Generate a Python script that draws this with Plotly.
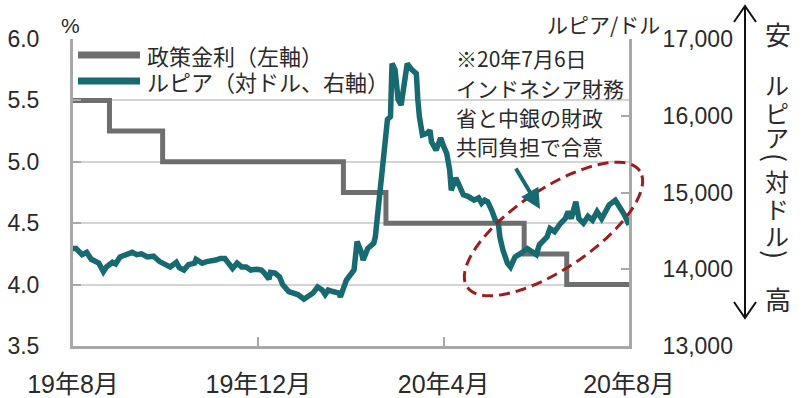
import numpy as np
import plotly.graph_objects as go

# ---------------- data ----------------
policy_dates = ["2019-08-26", "2019-09-19", "2019-10-24", "2020-02-20",
                "2020-03-19", "2020-06-18", "2020-07-16", "2020-08-26"]
policy_rate = [5.50, 5.25, 5.00, 4.75, 4.50, 4.25, 4.00, 4.00]

rupiah_dates = [
    "2019-08-26", "2019-08-28", "2019-09-01", "2019-09-04", "2019-09-07", "2019-09-12",
    "2019-09-15", "2019-09-17", "2019-09-21", "2019-09-23", "2019-09-26", "2019-09-29",
    "2019-10-04", "2019-10-07", "2019-10-10", "2019-10-14", "2019-10-18", "2019-10-22",
    "2019-10-26", "2019-10-29", "2019-11-02", "2019-11-04", "2019-11-07", "2019-11-10",
    "2019-11-14", "2019-11-15", "2019-11-19", "2019-11-22", "2019-11-28", "2019-12-01",
    "2019-12-04", "2019-12-06", "2019-12-09", "2019-12-12", "2019-12-15", "2019-12-18",
    "2019-12-21", "2019-12-25", "2019-12-28", "2019-12-30", "2020-01-02", "2020-01-03",
    "2020-01-06", "2020-01-09", "2020-01-11", "2020-01-15", "2020-01-18", "2020-01-21",
    "2020-01-25", "2020-01-28", "2020-01-31", "2020-02-03", "2020-02-06", "2020-02-08",
    "2020-02-10", "2020-02-13", "2020-02-17", "2020-02-18", "2020-02-22", "2020-02-27",
    "2020-02-29", "2020-03-03", "2020-03-04", "2020-03-07", "2020-03-11", "2020-03-12",
    "2020-03-15", "2020-03-18", "2020-03-20", "2020-03-22", "2020-03-23", "2020-03-25",
    "2020-03-27", "2020-03-29", "2020-03-31", "2020-04-02", "2020-04-05", "2020-04-08",
    "2020-04-09", "2020-04-10", "2020-04-12", "2020-04-15", "2020-04-17", "2020-04-18",
    "2020-04-21", "2020-04-24", "2020-04-26", "2020-04-28", "2020-04-30", "2020-05-01",
    "2020-05-04", "2020-05-07", "2020-05-09", "2020-05-12", "2020-05-16", "2020-05-19",
    "2020-05-21", "2020-05-23", "2020-05-25", "2020-05-28", "2020-05-30", "2020-06-01",
    "2020-06-02", "2020-06-04", "2020-06-07", "2020-06-09", "2020-06-12", "2020-06-16",
    "2020-06-20", "2020-06-23", "2020-06-26", "2020-06-28", "2020-07-03", "2020-07-05",
    "2020-07-08", "2020-07-12", "2020-07-15", "2020-07-17", "2020-07-19", "2020-07-22",
    "2020-07-24", "2020-07-27", "2020-07-30", "2020-08-02", "2020-08-05", "2020-08-08",
    "2020-08-11", "2020-08-13", "2020-08-17", "2020-08-19", "2020-08-21", "2020-08-23",
    "2020-08-26",
]
rupiah_values = [
    14270, 14270, 14190, 14220, 14130, 14080,
    13970, 14030, 14090, 14070, 14160, 14190,
    14220, 14190, 14200, 14160, 14170, 14100,
    14060, 14030, 14090, 14020, 13990, 14060,
    14080, 14130, 14080, 14100, 14120, 14140,
    14140, 14080, 14010, 14080, 14030, 14030,
    13990, 14000, 13990, 13950, 13870, 13960,
    13950, 13900, 13800, 13710, 13690, 13670,
    13610, 13640, 13690, 13770, 13730, 13670,
    13730, 13710, 13690, 13640, 13860, 13990,
    14360, 14210, 14120, 14270, 14340, 14420,
    14990, 15730, 15950, 15990, 16680, 16600,
    16210, 16140, 16380, 16680, 16600, 16550,
    16210, 15990, 15750, 15770, 15810, 15660,
    15550, 15710, 15600, 15510, 15290, 15030,
    15190, 15080, 14970, 14950, 14900, 14930,
    14860, 14900, 14880, 14750, 14640, 14600,
    14420, 14250, 14080, 14030, 14160, 14210,
    14270, 14230, 14190, 14320, 14420, 14530,
    14490, 14600, 14660, 14750, 14660, 14880,
    14660, 14600, 14690, 14640, 14750, 14660,
    14750, 14840, 14900, 14840, 14770, 14710,
    14580,
]

x_tick_dates = ["2019-08-26", "2019-12-26", "2020-04-26", "2020-08-26"]
x_tick_labels = ["19年8月", "19年12月", "20年4月", "20年8月"]
left_ticks = [3.5, 4.0, 4.5, 5.0, 5.5, 6.0]
right_ticks = [13000, 14000, 15000, 16000, 17000]

policy_name = "政策金利（左軸）"
rupiah_name = "ルピア（対ドル、右軸）"
note_lines = ["※20年7月6日", "インドネシア財務", "省と中銀の財政", "共同負担で合意"]
side_chars = ["ル", "ピ", "ア", "(", "対", "ド", "ル", ")"]

# ---------------- style ----------------
W, H = 802, 398
L, R, T, B = 73, 629, 39, 346
TEAL = "#176a6f"
GRAY = "#6e6e6e"
GRID = "#d4d4d4"
AXIS = "#a8a8a8"
RED = "#9e1b1e"
TXT = "#2a2a2a"
NUM_FONT = "Liberation Sans, Arial, Noto Sans CJK JP"
JP_FONT = "Noto Sans CJK JP, sans-serif"


def px(x):
    return (x - L) / (R - L)


def py(y):
    return (B - y) / (B - T)


def label(x, y, text, size, family=JP_FONT, xanchor="center", angle=0):
    return dict(xref="paper", yref="paper", x=px(x), y=py(y), text=text,
                xanchor=xanchor, yanchor="middle", textangle=angle, showarrow=False,
                font=dict(family=family, size=size, color=TXT))


fig = go.Figure()
fig.add_trace(go.Scatter(x=policy_dates, y=policy_rate, mode="lines",
                         line=dict(color=GRAY, width=5, shape="hv"),
                         name=policy_name, yaxis="y", showlegend=False))
fig.add_trace(go.Scatter(x=rupiah_dates, y=rupiah_values, mode="lines",
                         line=dict(color=TEAL, width=5.5),
                         name=rupiah_name, yaxis="y2", showlegend=False))

shapes = []
annotations = []

# manual legend
for yy, col, name in [(55, GRAY, policy_name), (81, TEAL, rupiah_name)]:
    shapes.append(dict(type="line", xref="paper", yref="paper",
                       x0=px(78), x1=px(140), y0=py(yy), y1=py(yy),
                       line=dict(color=col, width=7)))
    annotations.append(label(145, yy, name, 22, xanchor="left"))

# note text
for yy, line in zip([58, 88, 117, 146], note_lines):
    annotations.append(label(454, yy, line, 21, xanchor="left"))

# teal arrow
annotations.append(dict(xref="paper", yref="paper", x=px(540), y=py(209),
                        ax=-25, ay=-42, text="", showarrow=True,
                        arrowhead=2, arrowsize=1, arrowwidth=4, arrowcolor=TEAL))

# dashed ellipse
cx, cy, a, b, th = 553.5, 229.0, 104.0, 40.0, np.deg2rad(33.9)
t = np.linspace(0, 2 * np.pi, 91)
ex = cx + a * np.cos(t) * np.cos(th) - b * np.sin(t) * np.sin(th)
ey = cy - a * np.cos(t) * np.sin(th) - b * np.sin(t) * np.cos(th)
path = "M " + " L ".join(f"{px(x):.4f},{py(y):.4f}" for x, y in zip(ex, ey)) + " Z"
shapes.append(dict(type="path", xref="paper", yref="paper", path=path,
                   line=dict(color=RED, width=3, dash="11px,6px")))

# unit labels
annotations.append(label(70, 26, "%", 21, family=NUM_FONT))
annotations.append(label(603, 24, "ルピア/ドル", 21))

# right side vertical label with arrow
shapes.append(dict(type="line", xref="paper", yref="paper",
                   x0=px(745), x1=px(745), y0=py(6), y1=py(318),
                   line=dict(color="#111111", width=2)))
shapes.append(dict(type="path", xref="paper", yref="paper",
                   path=f"M {px(734)},{py(22)} L {px(745)},{py(6)} L {px(756)},{py(22)}",
                   line=dict(color="#111111", width=2)))
shapes.append(dict(type="path", xref="paper", yref="paper",
                   path=f"M {px(734)},{py(302)} L {px(745)},{py(318)} L {px(756)},{py(302)}",
                   line=dict(color="#111111", width=2)))
annotations.append(label(778, 33, "安", 26))
annotations.append(label(778, 298, "高", 26))
for ch, yy in zip(side_chars, [85, 112, 136, 157, 180, 208, 235, 254]):
    rot = 90 if ch in "()" else 0
    size = 27 if ch in "()" else 24
    annotations.append(label(777, yy, ch, size, angle=rot))

fig.update_layout(
    width=W, height=H,
    margin=dict(l=L, r=W - R, t=T, b=H - B, pad=0, autoexpand=False),
    paper_bgcolor="white", plot_bgcolor="white",
    showlegend=False,
    shapes=shapes, annotations=annotations,
    xaxis=dict(type="date", range=["2019-08-26", "2020-08-26"],
               tickvals=x_tick_dates, ticktext=x_tick_labels,
               showgrid=False, zeroline=False, automargin=False,
               showline=True, linecolor=AXIS, linewidth=3,
               ticks="inside", ticklen=9, tickwidth=2, tickcolor=AXIS,
               ticklabelstandoff=14,
               tickfont=dict(family=NUM_FONT, size=25, color=TXT)),
    yaxis=dict(range=[3.5, 6.0], tickvals=left_ticks, tickformat=".1f",
               showgrid=True, gridcolor=GRID, gridwidth=2, zeroline=False,
               automargin=False,
               showline=True, linecolor=AXIS, linewidth=3,
               ticks="inside", ticklen=8, tickwidth=2, tickcolor=AXIS,
               ticklabelstandoff=26,
               tickfont=dict(family=NUM_FONT, size=23, color=TXT)),
    yaxis2=dict(range=[13000, 17000], tickvals=right_ticks, tickformat=",",
                overlaying="y", side="right", showgrid=False, zeroline=False,
                automargin=False,
                showline=True, linecolor=AXIS, linewidth=3,
                ticks="inside", ticklen=8, tickwidth=2, tickcolor=AXIS,
                ticklabelstandoff=26,
                tickfont=dict(family=NUM_FONT, size=23, color=TXT)),
)

fig.write_html("out.html", config={"displayModeBar": False},
               post_script="document.body.style.margin='0px';")
